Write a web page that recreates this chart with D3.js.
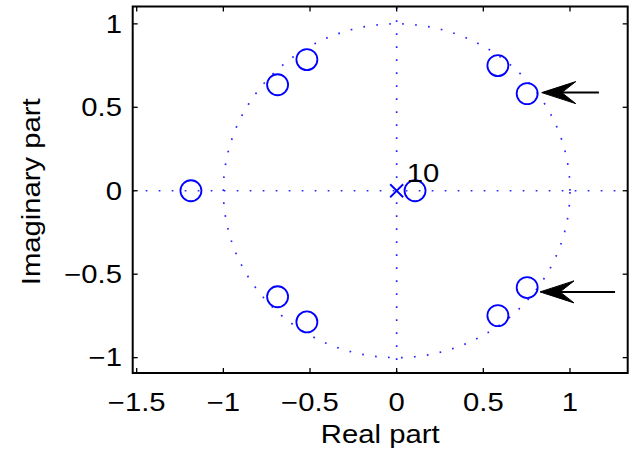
<!DOCTYPE html>
<html>
<head>
<meta charset="utf-8">
<script src="https://cdn.jsdelivr.net/npm/d3@7"></script>
<style>
  html, body { margin: 0; padding: 0; background: #fff; }
  svg { display: block; }
  text { font-family: "Liberation Sans", Arial, Helvetica, sans-serif; fill: #000; }
</style>
</head>
<body>
<svg id="chart" width="641" height="452"></svg>
<script>
// ---- data ----
const zerosRe = [-1.187, 0.106, -0.687, -0.687, -0.518, -0.518, 0.584, 0.584, 0.753, 0.753];
const zerosIm = [0, 0, 0.635, -0.635, 0.786, -0.786, 0.750, -0.748, 0.582, -0.580];
const polesRe = [0];
const polesIm = [0];
const poleMultiplicity = ["10"];
const xTicks = [-1.5, -1, -0.5, 0, 0.5, 1];
const yTicks = [-1, -0.5, 0, 0.5, 1];
const xTickLabels = ["\u22121.5", "\u22121", "\u22120.5", "0", "0.5", "1"];
const yTickLabels = ["\u22121", "\u22120.5", "0", "0.5", "1"];
const arrowTipRe = [0.837, 0.827];
const arrowTipIm = [0.588, -0.606];
const arrowTailRe = [1.167, 1.26];
const xLabel = "Real part";
const yLabel = "Imaginary part";
const xDomain = [-1.523, 1.333];
const yDomain = [-1.092, 1.104];

(function () {
// ---- layout ----
const svg = d3.select("#chart");
const pL = 132.7, pR = 627.7, pT = 6.5, pB = 373;
const x = d3.scaleLinear().domain(xDomain).range([pL, pR]);
const y = d3.scaleLinear().domain(yDomain).range([pB, pT]);
const blue = "#0000ff";
const fontSize = 25;
const stretch = 1.17;

svg.append("defs").append("clipPath").attr("id", "clip")
  .append("rect").attr("x", pL).attr("y", pT).attr("width", pR - pL).attr("height", pB - pT);
const plot = svg.append("g");

const dots = plot.append("g").attr("clip-path", "url(#clip)");
// unit circle
const circ = d3.range(0, 361, 1).map(a => [Math.cos(a * Math.PI / 180), Math.sin(a * Math.PI / 180)]);
dots.append("path")
  .attr("d", d3.line().x(d => x(d[0])).y(d => y(d[1]))(circ))
  .attr("fill", "none").attr("stroke", blue).attr("stroke-width", 1.7)
  .attr("stroke-dasharray", "1.7,11.3").attr("opacity", 0.85);
// axes lines through origin
dots.append("line").attr("x1", x(xDomain[0])).attr("x2", x(xDomain[1])).attr("y1", y(0)).attr("y2", y(0))
  .attr("stroke", blue).attr("stroke-width", 1.7).attr("stroke-dasharray", "1.7,11.3").attr("opacity", 0.85);
dots.append("line").attr("x1", x(0)).attr("x2", x(0)).attr("y1", y(yDomain[0])).attr("y2", y(yDomain[1]))
  .attr("stroke", blue).attr("stroke-width", 1.7).attr("stroke-dasharray", "1.7,11.3").attr("opacity", 0.85);

// zeros
plot.append("g").selectAll("circle").data(zerosRe).join("circle")
  .attr("cx", (d) => x(d)).attr("cy", (d, i) => y(zerosIm[i])).attr("r", 10.5)
  .attr("fill", "none").attr("stroke", blue).attr("stroke-width", 1.8);

// poles
const pg = plot.append("g");
polesRe.forEach((re, i) => {
  const px = x(re), py = y(polesIm[i]), s = 6.5;
  pg.append("path").attr("d", `M${px - s},${py - s}L${px + s},${py + s}M${px - s},${py + s}L${px + s},${py - s}`)
    .attr("stroke", blue).attr("stroke-width", 1.8).attr("fill", "none");
  pg.append("text").attr("x", px + 10).attr("y", py - 8.5).attr("font-size", fontSize)
    .attr("class", "st").text(poleMultiplicity[i]);
});

// arrows
const ag = plot.append("g");
arrowTipRe.forEach((tre, i) => {
  const tx = x(tre), ty = y(arrowTipIm[i]), ex = x(arrowTailRe[i]);
  const hl = 34, hw = 11, notch = 20;
  ag.append("line").attr("x1", tx + notch).attr("x2", ex).attr("y1", ty).attr("y2", ty)
    .attr("stroke", "#000").attr("stroke-width", 2);
  ag.append("path")
    .attr("d", `M${tx},${ty}L${tx + hl},${ty - hw}L${tx + notch},${ty}L${tx + hl},${ty + hw}Z`)
    .attr("fill", "#000").attr("stroke", "#000").attr("stroke-width", 1);
});

// box
svg.append("rect").attr("x", pL).attr("y", pT).attr("width", pR - pL).attr("height", pB - pT)
  .attr("fill", "none").attr("stroke", "#000").attr("stroke-width", 2);

// ticks (inside, all four sides)
const tl = 5;
const tg = svg.append("g").attr("stroke", "#000").attr("stroke-width", 1.3);
xTicks.forEach(t => {
  tg.append("line").attr("x1", x(t)).attr("x2", x(t)).attr("y1", pB).attr("y2", pB - tl);
  tg.append("line").attr("x1", x(t)).attr("x2", x(t)).attr("y1", pT).attr("y2", pT + tl);
});
yTicks.forEach(t => {
  tg.append("line").attr("y1", y(t)).attr("y2", y(t)).attr("x1", pL).attr("x2", pL + tl);
  tg.append("line").attr("y1", y(t)).attr("y2", y(t)).attr("x1", pR).attr("x2", pR - tl);
});

// tick labels
svg.append("g").selectAll("text").data(xTicks).join("text")
  .attr("class", "st")
  .attr("x", d => x(d)).attr("y", 411).attr("text-anchor", "middle").attr("font-size", fontSize)
  .text((d, i) => xTickLabels[i]);
svg.append("g").selectAll("text").data(yTicks).join("text")
  .attr("class", "st")
  .attr("x", 122).attr("y", d => y(d)).attr("dy", "0.35em").attr("text-anchor", "end").attr("font-size", fontSize)
  .text((d, i) => yTickLabels[i]);

// axis labels
svg.append("text").attr("class", "st").attr("x", (pL + pR) / 2).attr("y", 443)
  .attr("text-anchor", "middle").attr("font-size", fontSize).text(xLabel);
svg.append("text").attr("class", "st")
  .attr("transform", `translate(40,${(pT + pB) / 2 + 2}) rotate(-90)`)
  .attr("text-anchor", "middle").attr("font-size", fontSize).text(yLabel);

// widen glyphs to match reference proportions
svg.selectAll("text.st").each(function () {
  const len = this.getComputedTextLength();
  d3.select(this).attr("textLength", len * stretch).attr("lengthAdjust", "spacingAndGlyphs");
});
})();
</script>
</body>
</html>
